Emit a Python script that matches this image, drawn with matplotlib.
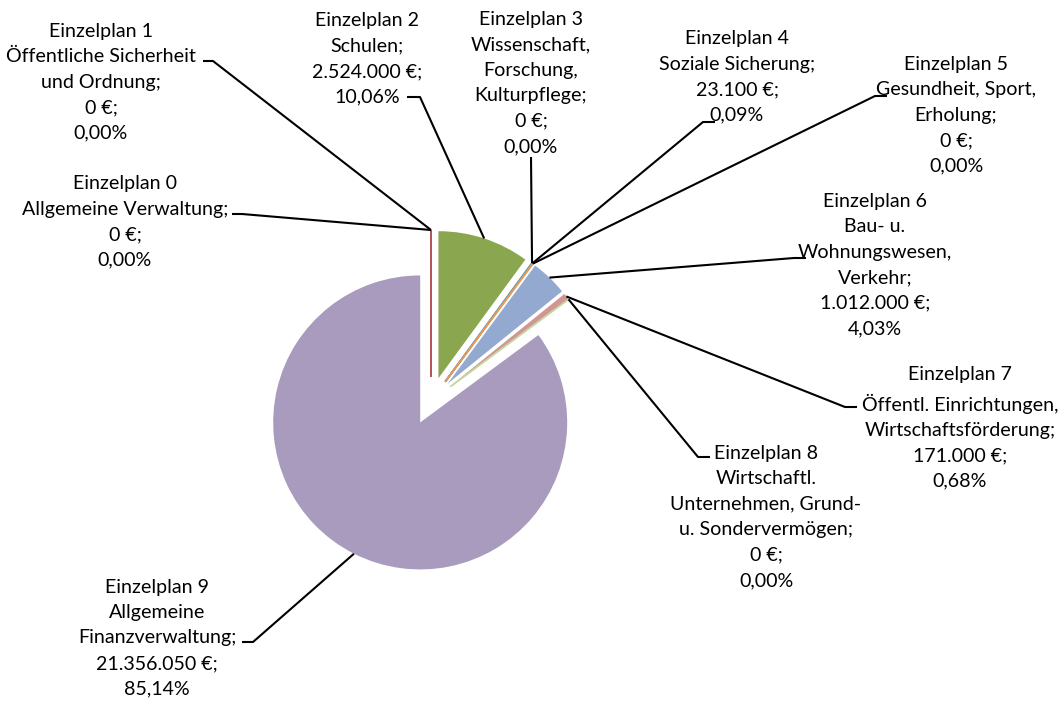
import matplotlib
matplotlib.use("Agg")
import matplotlib.pyplot as plt
import numpy as np

plt.rcParams['font.family'] = ['Lato', 'DejaVu Sans']

# ---- data ----
categories = [
    "Einzelplan 0\nAllgemeine Verwaltung",
    "Einzelplan 1\nÖffentliche Sicherheit\nund Ordnung",
    "Einzelplan 2\nSchulen",
    "Einzelplan 3\nWissenschaft,\nForschung,\nKulturpflege",
    "Einzelplan 4\nSoziale Sicherung",
    "Einzelplan 5\nGesundheit, Sport,\nErholung",
    "Einzelplan 6\nBau- u.\nWohnungswesen,\nVerkehr",
    "Einzelplan 7\nÖffentl. Einrichtungen,\nWirtschaftsförderung",
    "Einzelplan 8\nWirtschaftl.\nUnternehmen, Grund-\nu. Sondervermögen",
    "Einzelplan 9\nAllgemeine\nFinanzverwaltung",
]
values = [0, 0, 2524000, 0, 23100, 0, 1012000, 171000, 0, 21356050]
percents = ["0,00%", "0,00%", "10,06%", "0,00%", "0,09%", "0,00%",
            "4,03%", "0,68%", "0,00%", "85,14%"]
colors = ["#4F81BD", "#C0504D", "#8AA64F", "#8064A2", "#4BACC6", "#F79646",
          "#94A9CF", "#D19594", "#C3D69B", "#A99BBE"]

# ---- layout (pixel coordinates, top-left origin) ----
W, H = 1063, 701
center_px = (431, 401)
radius_px = 147
explode_px = 24
# label block centers
label_pos = [(125, 222), (101, 82), (367, 59), (531, 83), (737, 77),
             (956, 115), (875, 265), (960, 428), (766, 517), (157, 638)]
# leader elbow points and tick ends
elbows = [(242, 214), (213, 61), (420, 97), (531, 157), (703, 122),
          (875, 96), (794, 258), (845, 407), (698, 457), (253, 642)]
ticks = [(232, 214), (203, 61), (407, 97), None, (715, 122),
         (887, 96), (806, 258), (857, 407), (710, 457), (242, 642)]


def py(y):
    return H - y


def fmt_eur(v):
    return f"{v:,.0f}".replace(",", ".") + " €"


fig = plt.figure(figsize=(W / 100, H / 100), dpi=100)
ax = fig.add_axes([0, 0, 1, 1])

wedges, _ = ax.pie(values, colors=colors, startangle=90, counterclock=False,
                   explode=[explode_px] * len(values), radius=radius_px,
                   center=(center_px[0], py(center_px[1])), normalize=True,
                   frame=True)
ax.set_xlim(0, W)
ax.set_ylim(0, H)
ax.axis("off")
ax.set_aspect("equal")

total = sum(values)
for w, v, c in zip(wedges, values, colors):
    if v / total < 0.002:
        w.set_edgecolor(c)
        w.set_linewidth(1.3)
    else:
        w.set_linewidth(0)

for i, w in enumerate(wedges):
    cx, cy = w.center
    tm = np.deg2rad(0.5 * (w.theta1 + w.theta2))
    sx, sy = cx + w.r * np.cos(tm), cy + w.r * np.sin(tm)
    ex, ey = elbows[i]
    xs = [sx, ex]
    ys = [sy, py(ey)]
    if ticks[i] is not None:
        xs.append(ticks[i][0])
        ys.append(py(ticks[i][1]))
    ax.plot(xs, ys, color="black", lw=1.5, solid_capstyle="butt", zorder=3)
    txt = f"{categories[i]};\n{fmt_eur(values[i])};\n{percents[i]}"
    lx, ly = label_pos[i]
    ax.text(lx, py(ly), txt, ha="center", va="center", multialignment="center",
            fontsize=14.1, linespacing=1.6, color="black", zorder=4)

fig.savefig("out.png", dpi=100)
